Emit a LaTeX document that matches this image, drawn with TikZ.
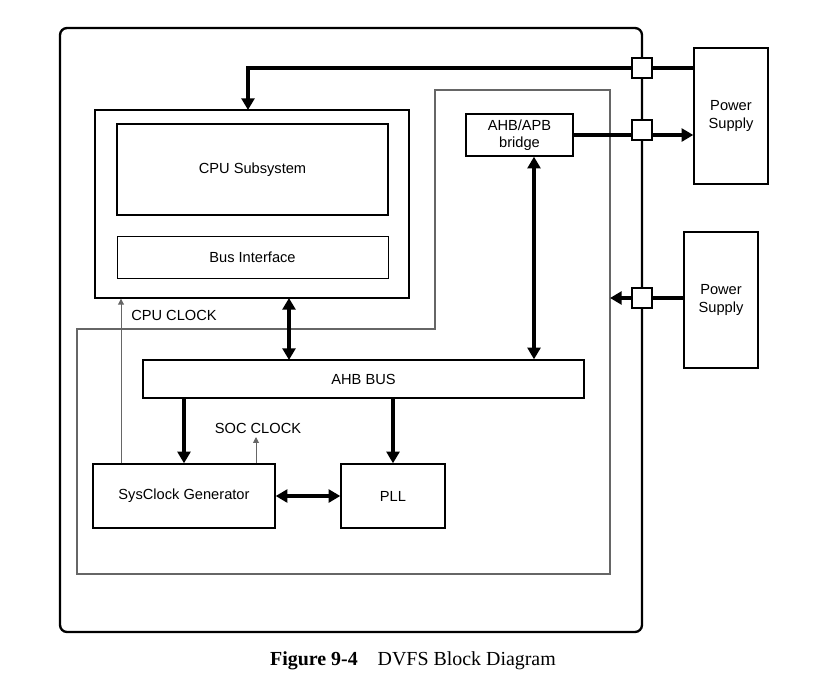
\documentclass[tikz,border=0pt]{standalone}
\usepackage{fontspec}
\setmainfont{Liberation Sans}
\newfontfamily\capfont{Liberation Serif}
\usetikzlibrary{arrows.meta}

\tikzset{
  blk/.style={draw, line width=1.2pt, inner sep=0pt},
  port/.style={draw, line width=1pt, fill=white, minimum size=17pt, inner sep=0pt},
  bus/.style={line width=2.6pt, -{Triangle[length=10pt,width=11pt]}},
  dbus/.style={line width=2.6pt, {Triangle[length=10pt,width=11pt]}-{Triangle[length=10pt,width=11pt]}},
  clk/.style={gray!80!black, line width=0.8pt, -{Triangle[length=5pt,width=5pt]}},
  lbl/.style={font=\fontsize{12.5}{15}\selectfont}
}

\begin{document}
\begin{tikzpicture}[x=0.03cm, y=-0.03cm]
\useasboundingbox (0,0) rectangle (830,695);

% Outer chip and voltage rail
\draw[line width=2pt, rounded corners=6pt] (60,28) rectangle (642,632);
\draw[gray!80!black, line width=0.9pt] (435,90) -- (610,90) -- (610,574) -- (77,574) -- (77,329) -- (435,329) -- cycle;

% Blocks
\node[blk, minimum width=314*0.03cm, minimum height=188*0.03cm] (cpu) at (252,204) {};
\node[blk, minimum width=271*0.03cm, minimum height=91*0.03cm, lbl] (sub) at (252.5,169.5) {CPU Subsystem};
\node[draw, line width=0.8pt, minimum width=271*0.03cm, minimum height=42*0.03cm, lbl] (busif) at (252.5,257) {Bus Interface};
\node[blk, minimum width=107*0.03cm, minimum height=42*0.03cm, lbl, align=center] (bridge) at (519.5,135) {AHB/APB\\bridge};
\node[blk, minimum width=441*0.03cm, minimum height=38*0.03cm, lbl] (ahb) at (363.5,379) {AHB BUS};
\node[blk, minimum width=182*0.03cm, minimum height=64*0.03cm, lbl] (sysclk) at (184,496) {SysClock Generator};
\node[blk, minimum width=104*0.03cm, minimum height=64*0.03cm, lbl] (pll) at (393,496) {PLL};
\node[blk, minimum width=74*0.03cm, minimum height=136*0.03cm, lbl, align=center] (ps1) at (731,116) {Power\\Supply};
\node[blk, minimum width=74*0.03cm, minimum height=136*0.03cm, lbl, align=center] (ps2) at (721,300) {Power\\Supply};

% Rail connectors
\coordinate (cpuin) at (248,110);
\coordinate (railin) at (610,298);
\draw[bus] (ps1.west |- 0,68) -- (248,68) -- (cpuin);
\draw[bus] (bridge.east) -- (ps1.west |- bridge.east);
\draw[bus] (ps2.west |- railin) -- (railin);
\foreach \y/\n in {68/pa,130/pb,298/pc}
  \node[port] (\n) at (642,\y) {};

% Bus connectors
\draw[dbus] (289,298) -- (289,360);
\draw[dbus] (bridge.south -| 534,0) -- (ahb.north -| 534,0);
\draw[bus] (ahb.south -| 184,0) -- (sysclk.north -| 184,0);
\draw[bus] (ahb.south -| pll.north) -- (pll.north);
\draw[dbus] (sysclk.east) -- (pll.west);

% Clocks
\draw[clk] (sysclk.north -| 121,0) -- (cpu.south -| 121,0);
\draw[clk] (sysclk.north -| 256,0) -- (256,437);
\node[lbl] (cpuclk) at (174,315) {CPU CLOCK};
\node[lbl] (socclk) at (258,428) {SOC CLOCK};

% Caption
\node[font=\capfont\fontsize{17}{20}\selectfont] (cap) at (413,661) {\textbf{Figure 9-4}\quad DVFS Block Diagram};
\end{tikzpicture}
\end{document}
